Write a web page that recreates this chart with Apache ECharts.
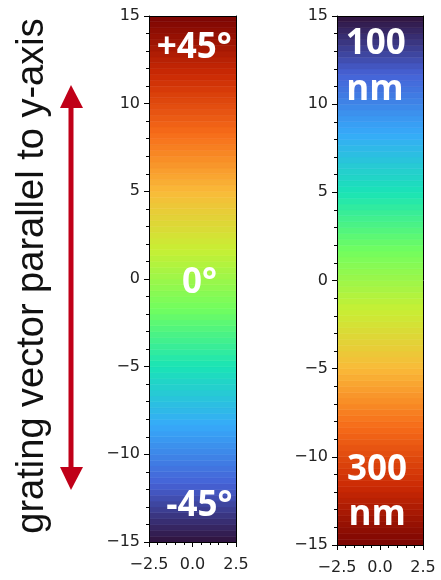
<!DOCTYPE html>
<html>
<head>
<meta charset="utf-8">
<script src="https://cdn.jsdelivr.net/npm/echarts@6/dist/echarts.min.js"></script>
<style>html,body{margin:0;padding:0;background:#fff}#c{width:441px;height:580px}</style>
</head>
<body>
<div id="c"></div>
<script>
// Band edges (y units) of the discrete colour stripes, bottom to top
const bandEdges = [-15,-14.667,-14.333,-14,-13.667,-13.333,-13,-12.667,-12.333,-12,-11.667,-11.333,-11,-10.667,-10.333,-10,-9.667,-9.333,-9,-8.667,-8.333,-8,-7.667,-7.333,-7,-6.667,-6.333,-6,-5.667,-5.333,-5,-4.667,-4.333,-4,-3.667,-3.333,-3,-2.667,-2.333,-2,-1.667,-1.333,-1,-0.667,-0.333,0,0.333,0.667,1,1.333,1.667,2,2.333,2.667,3,3.333,3.667,4,4.333,4.667,5,5.333,5.667,6,6.333,6.667,7,7.333,7.667,8,8.333,8.667,9,9.333,9.667,10,10.333,10.667,11,11.333,11.667,12,12.333,12.667,13,13.333,13.667,14,14.333,14.667,15];
const yTicks = [-15,-10,-5,0,5,10,15];
const xTicks = [-2.5,0.0,2.5];
const turbo = ['#30123b','#4662d7','#36aaf9','#1ae4b6','#72fe5e','#c7ef34','#faba39','#f66b19','#cb2a04','#7a0403'];
const leftLabelText = ['+45°', '0°', '-45°'];
const leftLabelAt = [[0.1, 13.2], [0.4, -0.25], [0.4, -12.95]];
const rightLabelText = ['100', 'nm', '300', 'nm'];
const rightLabelAt = [[-0.25, 13.4], [-0.3, 10.8], [-0.17, -10.75], [-0.17, -13.3]];

const leftData = [], rightData = [];
for (let i = 0; i < bandEdges.length - 1; i++) {
  const lo = bandEdges[i], hi = bandEdges[i+1], mid = (lo+hi)/2;
  leftData.push([lo, hi, mid]);
  rightData.push([lo, hi, -mid]);
}

const minus = s => String(s).replace('-', '\u2212');
const FONT = 'DejaVu Sans';

function axesFor(gi) {
  return {
    x: [{
      gridIndex: gi, type:'value', min:-2.5, max:2.5, interval:2.5, position:'bottom', z:5,
      axisLine:{show:true, onZero:false, lineStyle:{color:'#000', width:1}},
      axisTick:{show:true, length:5, lineStyle:{color:'#000'}},
      minorTick:{show:true, splitNumber:5, length:3, lineStyle:{color:'#000'}},
      splitLine:{show:false},
      axisLabel:{fontFamily:FONT, fontSize:16, color:'#222', margin:15, formatter: v => minus(v.toFixed(1))}
    },{
      gridIndex: gi, type:'value', min:-2.5, max:2.5, position:'top', z:5,
      axisLine:{show:true, onZero:false, lineStyle:{color:'#000', width:1}},
      axisTick:{show:false}, axisLabel:{show:false}, splitLine:{show:false}
    }],
    y: [{
      gridIndex: gi, type:'value', min:-15, max:15, interval:5, position:'left', z:5,
      axisLine:{show:true, onZero:false, lineStyle:{color:'#000', width:1}},
      axisTick:{show:true, length:5, lineStyle:{color:'#000'}},
      minorTick:{show:true, splitNumber:5, length:3, lineStyle:{color:'#000'}},
      splitLine:{show:false},
      axisLabel:{fontFamily:FONT, fontSize:16, color:'#222', margin:9, formatter: v => minus(v)}
    },{
      gridIndex: gi, type:'value', min:-15, max:15, position:'right', z:5,
      axisLine:{show:true, onZero:false, lineStyle:{color:'#000', width:1}},
      axisTick:{show:false}, axisLabel:{show:false}, splitLine:{show:false}
    }]
  };
}
const a0 = axesFor(0), a1 = axesFor(1);

function renderBand(params, api) {
  const p0 = api.coord([-2.5, api.value(1)]);
  const p1 = api.coord([2.5, api.value(0)]);
  const c = api.visual('color');
  return {type:'rect', shape:{x:p0[0], y:p0[1], width:p1[0]-p0[0], height:p1[1]-p0[1]},
          style:{fill:c, stroke:c, lineWidth:0.6}};
}

function textSeries(xi, yi, texts, at) {
  return {
    type:'scatter', xAxisIndex:xi, yAxisIndex:yi, symbolSize:0, z:10, silent:true,
    itemStyle:{opacity:1},
    data: texts.map((t, i) => ({value:at[i], name:t})),
    label:{show:true, position:'inside', formatter: p => p.name, color:'#ffffff', opacity:1,
           textBorderWidth:0, fontFamily:'Open Sans', fontWeight:'bold', fontSize:35}
  };
}

const option = {
  animation:false,
  grid:[
    {left:149, top:16, width:87, height:526},
    {left:337, top:16, width:86, height:529}
  ],
  xAxis: [...a0.x, ...a1.x],
  yAxis: [...a0.y, ...a1.y],
  visualMap:[{
    type:'continuous', show:false, min:-15, max:15, dimension:2, seriesIndex:[0,1],
    inRange:{color:turbo}
  }],
  series:[
    {type:'custom', xAxisIndex:0, yAxisIndex:0, data:leftData, renderItem:renderBand, encode:{y:[0,1]}, clip:true},
    {type:'custom', xAxisIndex:2, yAxisIndex:2, data:rightData, renderItem:renderBand, encode:{y:[0,1]}, clip:true},
    textSeries(0, 0, leftLabelText, leftLabelAt),
    textSeries(2, 2, rightLabelText, rightLabelAt)
  ],
  graphic:[
    {type:'text', x:14, y:276, rotation:Math.PI/2, originX:0, originY:0,
     style:{text:'grating vector parallel to y-axis', fontFamily:'Liberation Sans', fontSize:38,
            fill:'#111', align:'center', verticalAlign:'top'}},
    {type:'line', shape:{x1:71, y1:104, x2:71, y2:471}, style:{stroke:'#c00018', lineWidth:5}},
    {type:'polygon', shape:{points:[[71,85],[60,108],[83,108]]}, style:{fill:'#c00018'}},
    {type:'polygon', shape:{points:[[71,490],[60,467],[83,467]]}, style:{fill:'#c00018'}}
  ]
};
const chart = echarts.init(document.getElementById('c'), null, {renderer:'canvas'});
chart.setOption(option);
</script>
</body>
</html>
